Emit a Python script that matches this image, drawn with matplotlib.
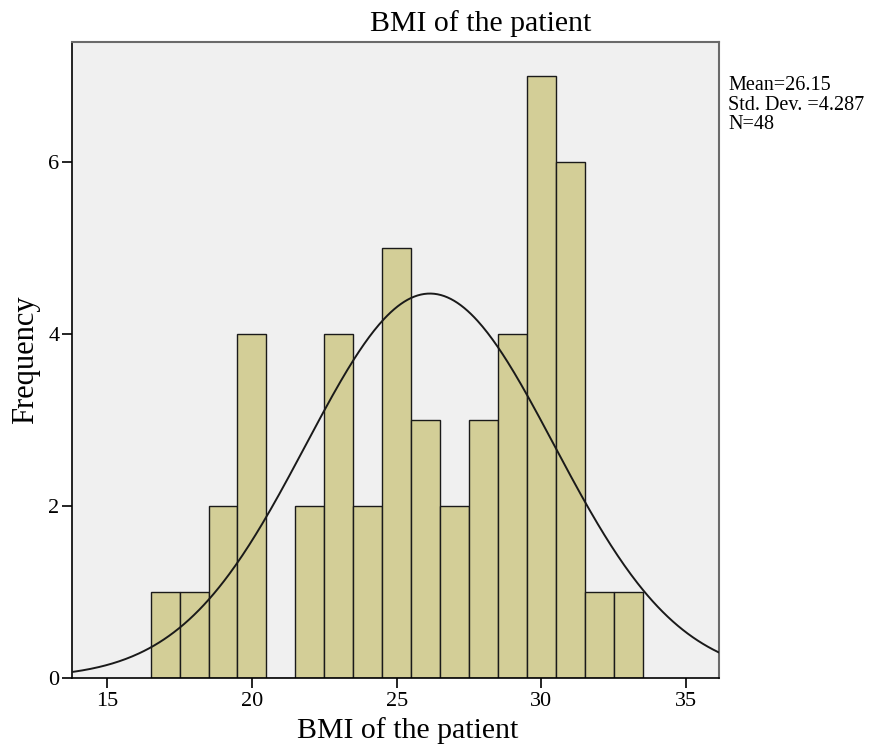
import numpy as np
import matplotlib
matplotlib.use("Agg")
import matplotlib.pyplot as plt

# histogram data (bin width 1, left edges)
bin_lefts = [16.5, 17.5, 18.5, 19.5, 20.5, 21.5, 22.5, 23.5, 24.5,
             25.5, 26.5, 27.5, 28.5, 29.5, 30.5, 31.5, 32.5]
counts = [1, 1, 2, 4, 0, 2, 4, 2, 5, 3, 2, 3, 4, 7, 6, 1, 1]

mean_bmi = 26.15
sd_bmi = 4.287
n_total = 48
bin_width = 1.0

x_ticks = [15, 20, 25, 30, 35]
y_ticks = [0, 2, 4, 6]

plt.rcParams["font.family"] = ["Liberation Serif", "DejaVu Serif"]

fig = plt.figure(figsize=(8.95, 7.47), dpi=100)
ax = fig.add_axes([0.0804, 0.0924, 0.7230, 0.8514])
ax.set_facecolor("#f0f0f0")

ax.bar(bin_lefts, counts, width=bin_width, align="edge",
       color="#d3ce97", edgecolor="#1a1a1a", linewidth=1.0, zorder=2)

# normal curve scaled to counts
xs = np.linspace(13.5, 36.5, 400)
ys = n_total * bin_width / (sd_bmi * np.sqrt(2 * np.pi)) * np.exp(-0.5 * ((xs - mean_bmi) / sd_bmi) ** 2)
ax.plot(xs, ys, color="#1a1a1a", linewidth=1.4, zorder=3)

ax.set_xlim(13.78, 36.14)
ax.set_ylim(0, 7.39)
ax.set_xticks(x_ticks)
ax.set_yticks(y_ticks)
ax.tick_params(axis="x", labelsize=16, length=7, width=1.2, direction="out", pad=3)
ax.tick_params(axis="y", labelsize=16, length=7, width=1.2, direction="out", pad=2)

for side in ["left", "bottom"]:
    ax.spines[side].set_color("black")
    ax.spines[side].set_linewidth(1.2)
for side in ["top", "right"]:
    ax.spines[side].set_color("#6a6a6a")
    ax.spines[side].set_linewidth(1.5)

fig.text(481 / 895, 1 - 24 / 747, "BMI of the patient", fontsize=21.5,
         ha="center", va="center")
fig.text(408 / 895, 1 - 731 / 747, "BMI of the patient", fontsize=21.5,
         ha="center", va="center")
fig.text(26 / 895, 1 - 360 / 747, "Frequency", fontsize=22, rotation=90,
         ha="center", va="center")

fig.text(728 / 895, 1 - 76 / 747, "Mean=26.15\nStd. Dev. =4.287\nN=48", fontsize=14.5,
         va="top", ha="left", linespacing=1.05)

fig.savefig("out.png", dpi=100)
